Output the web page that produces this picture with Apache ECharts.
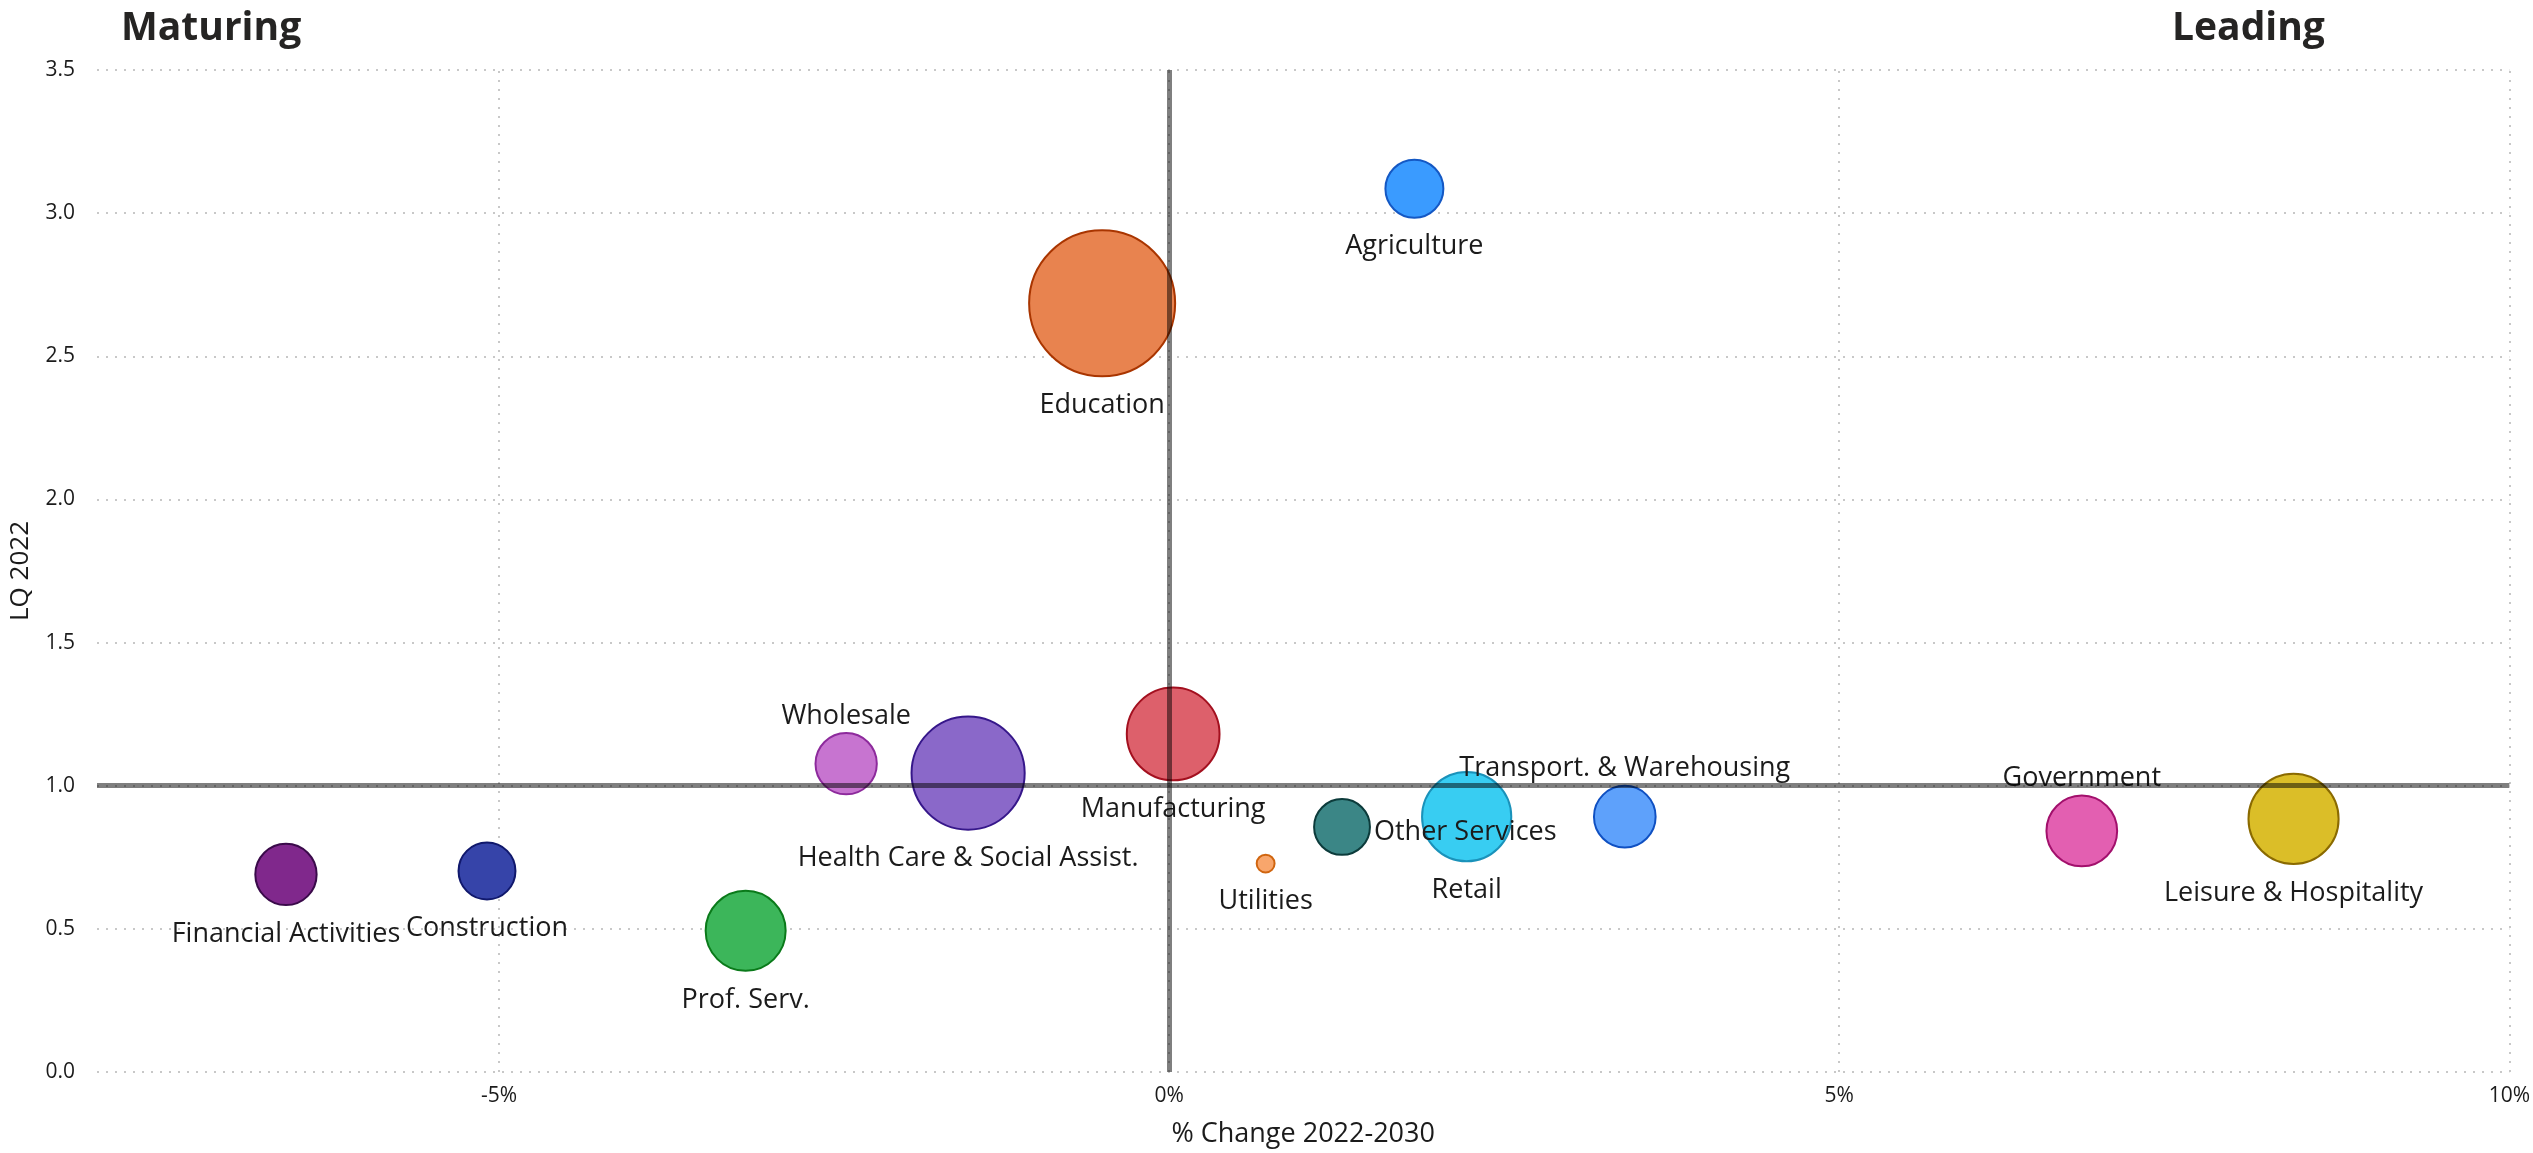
<!DOCTYPE html>
<html>
<head>
<meta charset="utf-8">
<script src="https://cdn.jsdelivr.net/npm/echarts@6/dist/echarts.min.js"></script>
<style>
  html, body { margin: 0; padding: 0; background: #ffffff; }
  #chart { width: 2533px; height: 1153px; }
</style>
</head>
<body>
<div id="chart"></div>
<script>
// Industry bubbles: growth outlook vs. 2022 location quotient
const industries = [
  'Agriculture', 'Education', 'Wholesale', 'Health Care & Social Assist.',
  'Manufacturing', 'Utilities', 'Other Services', 'Retail',
  'Transport. & Warehousing', 'Government', 'Leisure & Hospitality',
  'Financial Activities', 'Construction', 'Prof. Serv.'
];
const pctChange = [1.83, -0.50, -2.41, -1.50, 0.03, 0.72, 1.29, 2.22, 3.40, 6.81, 8.39, -6.59, -5.09, -3.16];
const lq2022    = [3.085, 2.685, 1.077, 1.044, 1.181, 0.728, 0.856, 0.892, 0.892, 0.842, 0.884, 0.690, 0.702, 0.493];
const employment = [84, 533, 94, 320, 215, 8, 78, 199, 95, 125, 203, 94, 81, 160];

const xTicks = [-5, 0, 5, 10];
const xGridLines = [-5, 0, 5, 10];
const quadrantTitles = ['Maturing', 'Leading'];

// Styling
const fillColors = ['#3a9bff', '#e8834f', '#c774d0', '#8a68c9', '#dd606b', '#f8a66c', '#3b8686',
                    '#38cdf2', '#5ea1fb', '#e35fb1', '#dbbe28', '#80288c', '#3644a9', '#3cb65a'];
const borderColors = ['#1458c4', '#a93500', '#8d2a9c', '#36178a', '#a3101f', '#d0650f', '#0c3b3b',
                      '#1a92ba', '#0f50c2', '#a2106c', '#8a6a00', '#3a0a4a', '#10186c', '#0a7a1a'];
const labelSide = ['bottom', 'bottom', 'top', 'bottom', 'bottom', 'bottom', 'right',
                   'bottom', 'top', 'top', 'bottom', 'bottom', 'bottom', 'bottom'];

const uiFont = "'Open Sans', 'Noto Sans', sans-serif";
const textColor = '#1b1b1b';

const bubbles = industries.map((name, i) => {
  const side = labelSide[i];
  return {
    name: name,
    value: [pctChange[i], lq2022[i], employment[i]],
    itemStyle: { color: fillColors[i], borderColor: borderColors[i] },
    label: {
      position: side,
      distance: side === 'right' ? 3 : (side === 'top' ? 1 : 13),
      offset: side === 'right' ? [0, 5] : [0, 0]
    }
  };
});

const chart = echarts.init(document.getElementById('chart'), null, { renderer: 'canvas' });

chart.setOption({
  backgroundColor: '#ffffff',
  animation: false,
  grid: { left: 96, right: 21, top: 70, bottom: 80, containLabel: false },
  graphic: [
    { type: 'text', left: 121, top: 9,
      style: { text: quadrantTitles[0], font: "bold 39px 'Open Sans', sans-serif", fill: '#252423' } },
    { type: 'text', left: 2172, top: 9,
      style: { text: quadrantTitles[1], font: "bold 39px 'Open Sans', sans-serif", fill: '#252423' } }
  ],
  xAxis: {
    type: 'value',
    min: -8,
    max: 10,
    name: '% Change 2022-2030',
    nameLocation: 'middle',
    nameGap: 49,
    nameTextStyle: { fontFamily: uiFont, fontSize: 27, color: textColor },
    axisLine: { show: false },
    axisTick: { show: false },
    splitLine: { show: false },
    axisLabel: {
      customValues: xTicks,
      formatter: v => v + '%',
      fontFamily: uiFont, fontSize: 21, color: textColor, margin: 14
    }
  },
  yAxis: {
    type: 'value',
    min: 0,
    max: 3.5,
    interval: 0.5,
    name: 'LQ 2022',
    nameLocation: 'middle',
    nameGap: 63,
    nameTextStyle: { fontFamily: uiFont, fontSize: 26, color: textColor },
    axisLine: { show: false },
    axisTick: { show: false },
    splitLine: { show: true, lineStyle: { color: '#c8c8c8', width: 2, type: [2, 7] } },
    axisLabel: {
      formatter: v => v.toFixed(1),
      fontFamily: uiFont, fontSize: 21, color: textColor, margin: 22
    }
  },
  series: [
    {
      // dotted vertical grid lines
      type: 'scatter',
      data: [],
      z: 0,
      silent: true,
      markLine: {
        z: 0,
        silent: true,
        symbol: ['none', 'none'],
        label: { show: false },
        lineStyle: { color: '#c8c8c8', width: 2, type: [2, 7] },
        data: xGridLines.map(v => ({ xAxis: v }))
      }
    },
    {
      type: 'scatter',
      z: 2,
      data: bubbles,
      symbolSize: d => 2 * Math.sqrt(d[2] * 10),
      itemStyle: { borderWidth: 2, opacity: 1 },
      label: {
        show: true,
        formatter: '{b}',
        fontFamily: uiFont,
        fontSize: 27,
        lineHeight: 30,
        color: textColor
      },
      emphasis: { disabled: true }
    },
    {
      // quadrant dividers at 0% change and LQ = 1
      type: 'scatter',
      data: [],
      z: 10,
      silent: true,
      markLine: {
        z: 10,
        silent: true,
        symbol: ['none', 'none'],
        label: { show: false },
        lineStyle: { color: 'rgba(0,0,0,0.5)', width: 5, type: 'solid' },
        data: [{ xAxis: 0 }, { yAxis: 1 }]
      }
    }
  ]
});
</script>
</body>
</html>
